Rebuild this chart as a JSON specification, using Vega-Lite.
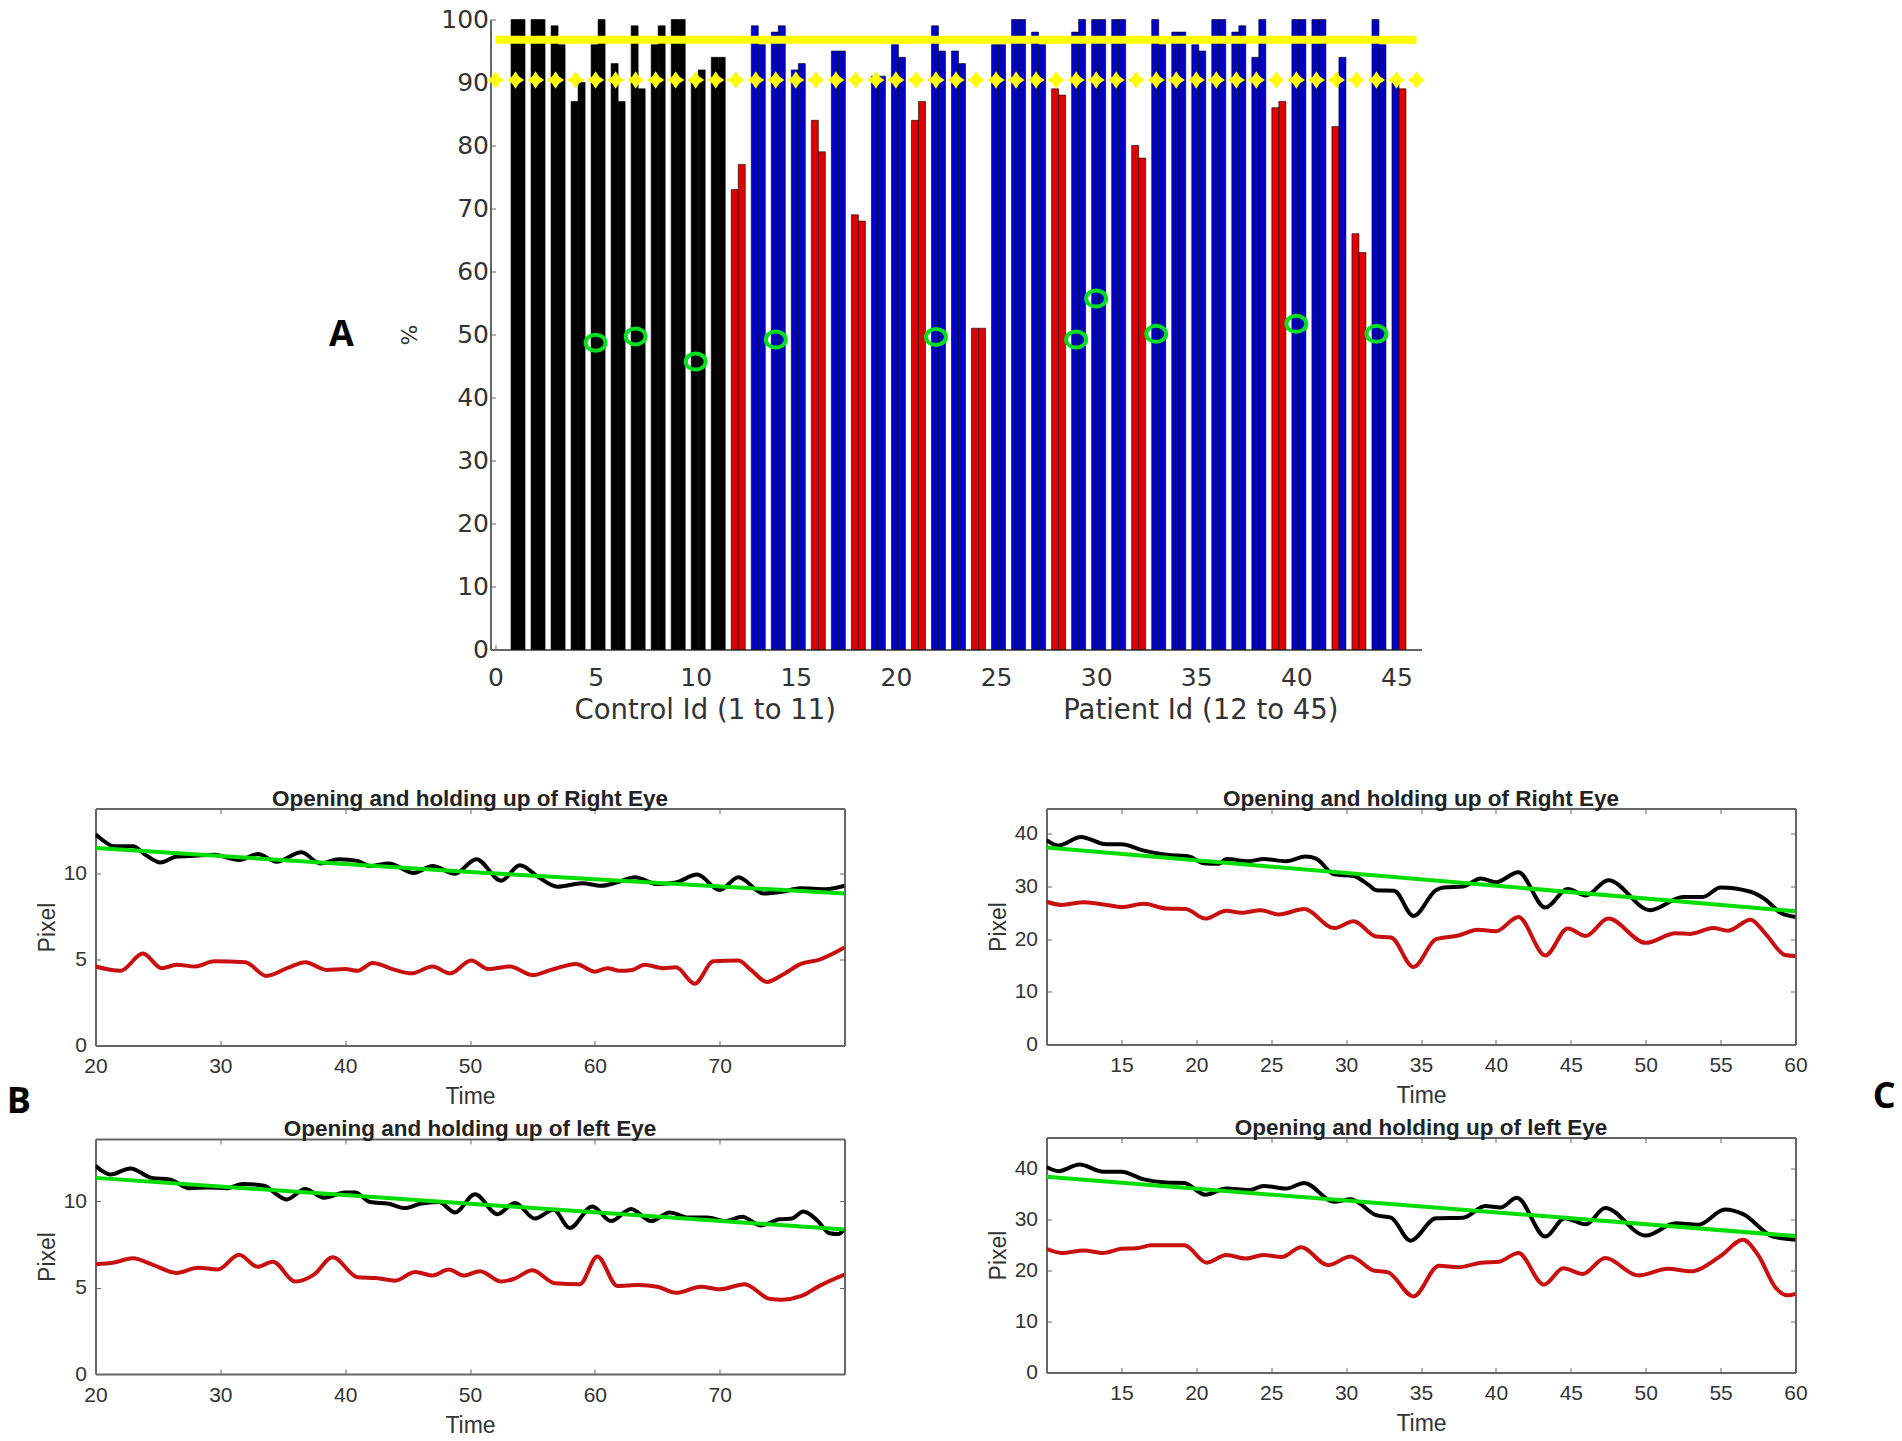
{
  "$schema": "https://vega.github.io/schema/vega-lite/v6.json",
  "description": "A: per-subject percentage bars for controls and patients. B and C: eye opening traces over time.",
  "background": "white",
  "padding": {"left": 6.5, "top": 7.5, "right": 0, "bottom": 8},
  "config": {
    "view": {"stroke": null},
    "axis": {
      "grid": false,
      "labelFont": "Liberation Sans",
      "titleFont": "Liberation Sans",
      "labelFontSize": 21,
      "titleFontSize": 23,
      "titleFontWeight": "normal",
      "labelColor": "#333333",
      "titleColor": "#333333",
      "domainColor": "#666666",
      "domainWidth": 2,
      "tickColor": "#666666",
      "tickSize": -5,
      "labelPadding": 15,
      "labelFlush": false,
      "labelOverlap": false
    },
    "title": {"font": "Liberation Sans", "fontSize": 22.5, "fontWeight": "bold", "color": "#222222", "offset": -2}
  },
  "datasets": {
    "subjects": [
      {"id": 1, "first": 100, "second": 100, "firstGroup": "control", "secondGroup": "control"},
      {"id": 2, "first": 100, "second": 100, "firstGroup": "control", "secondGroup": "control"},
      {"id": 3, "first": 99, "second": 96, "firstGroup": "control", "secondGroup": "control"},
      {"id": 4, "first": 87, "second": 90, "firstGroup": "control", "secondGroup": "control"},
      {"id": 5, "first": 96, "second": 100, "firstGroup": "control", "secondGroup": "control"},
      {"id": 6, "first": 93, "second": 87, "firstGroup": "control", "secondGroup": "control"},
      {"id": 7, "first": 99, "second": 89, "firstGroup": "control", "secondGroup": "control"},
      {"id": 8, "first": 96, "second": 99, "firstGroup": "control", "secondGroup": "control"},
      {"id": 9, "first": 100, "second": 100, "firstGroup": "control", "secondGroup": "control"},
      {"id": 10, "first": 90, "second": 92, "firstGroup": "control", "secondGroup": "control"},
      {"id": 11, "first": 94, "second": 94, "firstGroup": "control", "secondGroup": "control"},
      {"id": 12, "first": 73, "second": 77, "firstGroup": "low", "secondGroup": "low"},
      {"id": 13, "first": 99, "second": 96, "firstGroup": "patient", "secondGroup": "patient"},
      {"id": 14, "first": 98, "second": 99, "firstGroup": "patient", "secondGroup": "patient"},
      {"id": 15, "first": 92, "second": 93, "firstGroup": "patient", "secondGroup": "patient"},
      {"id": 16, "first": 84, "second": 79, "firstGroup": "low", "secondGroup": "low"},
      {"id": 17, "first": 95, "second": 95, "firstGroup": "patient", "secondGroup": "patient"},
      {"id": 18, "first": 69, "second": 68, "firstGroup": "low", "secondGroup": "low"},
      {"id": 19, "first": 91, "second": 91, "firstGroup": "patient", "secondGroup": "patient"},
      {"id": 20, "first": 96, "second": 94, "firstGroup": "patient", "secondGroup": "patient"},
      {"id": 21, "first": 84, "second": 87, "firstGroup": "low", "secondGroup": "low"},
      {"id": 22, "first": 99, "second": 95, "firstGroup": "patient", "secondGroup": "patient"},
      {"id": 23, "first": 95, "second": 93, "firstGroup": "patient", "secondGroup": "patient"},
      {"id": 24, "first": 51, "second": 51, "firstGroup": "low", "secondGroup": "low"},
      {"id": 25, "first": 96, "second": 96, "firstGroup": "patient", "secondGroup": "patient"},
      {"id": 26, "first": 100, "second": 100, "firstGroup": "patient", "secondGroup": "patient"},
      {"id": 27, "first": 98, "second": 96, "firstGroup": "patient", "secondGroup": "patient"},
      {"id": 28, "first": 89, "second": 88, "firstGroup": "low", "secondGroup": "low"},
      {"id": 29, "first": 98, "second": 100, "firstGroup": "patient", "secondGroup": "patient"},
      {"id": 30, "first": 100, "second": 100, "firstGroup": "patient", "secondGroup": "patient"},
      {"id": 31, "first": 100, "second": 100, "firstGroup": "patient", "secondGroup": "patient"},
      {"id": 32, "first": 80, "second": 78, "firstGroup": "low", "secondGroup": "low"},
      {"id": 33, "first": 100, "second": 96, "firstGroup": "patient", "secondGroup": "patient"},
      {"id": 34, "first": 98, "second": 98, "firstGroup": "patient", "secondGroup": "patient"},
      {"id": 35, "first": 96, "second": 95, "firstGroup": "patient", "secondGroup": "patient"},
      {"id": 36, "first": 100, "second": 100, "firstGroup": "patient", "secondGroup": "patient"},
      {"id": 37, "first": 98, "second": 99, "firstGroup": "patient", "secondGroup": "patient"},
      {"id": 38, "first": 94, "second": 100, "firstGroup": "patient", "secondGroup": "patient"},
      {"id": 39, "first": 86, "second": 87, "firstGroup": "low", "secondGroup": "low"},
      {"id": 40, "first": 100, "second": 100, "firstGroup": "patient", "secondGroup": "patient"},
      {"id": 41, "first": 100, "second": 100, "firstGroup": "patient", "secondGroup": "patient"},
      {"id": 42, "first": 83, "second": 94, "firstGroup": "low", "secondGroup": "patient"},
      {"id": 43, "first": 66, "second": 63, "firstGroup": "low", "secondGroup": "low"},
      {"id": 44, "first": 100, "second": 96, "firstGroup": "patient", "secondGroup": "patient"},
      {"id": 45, "first": 90, "second": 89, "firstGroup": "patient", "secondGroup": "low"}
    ],
    "rings": [
      {"id": 5, "value": 48.7}, {"id": 7, "value": 49.7}, {"id": 10, "value": 45.7},
      {"id": 14, "value": 49.2}, {"id": 22, "value": 49.6}, {"id": 29, "value": 49.2},
      {"id": 30, "value": 55.7}, {"id": 33, "value": 50.1}, {"id": 40, "value": 51.7},
      {"id": 44, "value": 50.1}
    ],
    "markers": [
      {"id": 0, "value": 90.4}, {"id": 1, "value": 90.4}, {"id": 2, "value": 90.4}, {"id": 3, "value": 90.4},
      {"id": 4, "value": 90.4}, {"id": 5, "value": 90.4}, {"id": 6, "value": 90.4}, {"id": 7, "value": 90.4},
      {"id": 8, "value": 90.4}, {"id": 9, "value": 90.4}, {"id": 10, "value": 90.4}, {"id": 11, "value": 90.4},
      {"id": 12, "value": 90.4}, {"id": 13, "value": 90.4}, {"id": 14, "value": 90.4}, {"id": 15, "value": 90.4},
      {"id": 16, "value": 90.4}, {"id": 17, "value": 90.4}, {"id": 18, "value": 90.4}, {"id": 19, "value": 90.4},
      {"id": 20, "value": 90.4}, {"id": 21, "value": 90.4}, {"id": 22, "value": 90.4}, {"id": 23, "value": 90.4},
      {"id": 24, "value": 90.4}, {"id": 25, "value": 90.4}, {"id": 26, "value": 90.4}, {"id": 27, "value": 90.4},
      {"id": 28, "value": 90.4}, {"id": 29, "value": 90.4}, {"id": 30, "value": 90.4}, {"id": 31, "value": 90.4},
      {"id": 32, "value": 90.4}, {"id": 33, "value": 90.4}, {"id": 34, "value": 90.4}, {"id": 35, "value": 90.4},
      {"id": 36, "value": 90.4}, {"id": 37, "value": 90.4}, {"id": 38, "value": 90.4}, {"id": 39, "value": 90.4},
      {"id": 40, "value": 90.4}, {"id": 41, "value": 90.4}, {"id": 42, "value": 90.4}, {"id": 43, "value": 90.4},
      {"id": 44, "value": 90.4}, {"id": 45, "value": 90.4}, {"id": 46, "value": 90.4}
    ],
    "threshold": [{"id": 0, "value": 96.8}, {"id": 46, "value": 96.8}],
    "rightEyeB": [
      {"s":"upper","t":20,"p":12.3},{"s":"upper","t":20.5,"p":12},{"s":"upper","t":21.5,"p":11.6},{"s":"upper","t":23,"p":11.6},{"s":"upper","t":24,"p":11.1},{"s":"upper","t":25.2,"p":10.65},{"s":"upper","t":26.5,"p":11},{"s":"upper","t":28,"p":11.05},{"s":"upper","t":29.5,"p":11.1},{"s":"upper","t":31.5,"p":10.8},{"s":"upper","t":33,"p":11.15},{"s":"upper","t":34.5,"p":10.7},{"s":"upper","t":36.5,"p":11.25},{"s":"upper","t":38,"p":10.6},{"s":"upper","t":39.5,"p":10.85},{"s":"upper","t":41,"p":10.75},{"s":"upper","t":42,"p":10.45},{"s":"upper","t":43.5,"p":10.6},{"s":"upper","t":45.5,"p":10.05},{"s":"upper","t":47,"p":10.45},{"s":"upper","t":48.8,"p":10},{"s":"upper","t":50.5,"p":10.85},{"s":"upper","t":52.5,"p":9.6},{"s":"upper","t":54,"p":10.5},{"s":"upper","t":55.5,"p":9.8},{"s":"upper","t":57,"p":9.25},{"s":"upper","t":59,"p":9.45},{"s":"upper","t":60.5,"p":9.3},{"s":"upper","t":62,"p":9.55},{"s":"upper","t":63.2,"p":9.8},{"s":"upper","t":65,"p":9.4},{"s":"upper","t":66.5,"p":9.5},{"s":"upper","t":68.2,"p":9.95},{"s":"upper","t":70,"p":9.05},{"s":"upper","t":71.5,"p":9.8},{"s":"upper","t":73.5,"p":8.85},{"s":"upper","t":75,"p":8.95},{"s":"upper","t":76.5,"p":9.15},{"s":"upper","t":78.5,"p":9.1},{"s":"upper","t":80,"p":9.3},
      {"s":"lower","t":20,"p":4.6},{"s":"lower","t":22,"p":4.35},{"s":"lower","t":23.8,"p":5.35},{"s":"lower","t":25.3,"p":4.5},{"s":"lower","t":26.5,"p":4.7},{"s":"lower","t":28,"p":4.6},{"s":"lower","t":29.5,"p":4.9},{"s":"lower","t":32,"p":4.85},{"s":"lower","t":33.7,"p":4.05},{"s":"lower","t":35.5,"p":4.55},{"s":"lower","t":36.8,"p":4.85},{"s":"lower","t":38.5,"p":4.4},{"s":"lower","t":40,"p":4.45},{"s":"lower","t":41,"p":4.35},{"s":"lower","t":42.2,"p":4.8},{"s":"lower","t":44,"p":4.4},{"s":"lower","t":45.3,"p":4.2},{"s":"lower","t":47,"p":4.6},{"s":"lower","t":48.4,"p":4.2},{"s":"lower","t":50.1,"p":4.95},{"s":"lower","t":51.5,"p":4.45},{"s":"lower","t":53.2,"p":4.6},{"s":"lower","t":55,"p":4.1},{"s":"lower","t":56.5,"p":4.4},{"s":"lower","t":58.5,"p":4.75},{"s":"lower","t":60,"p":4.3},{"s":"lower","t":61,"p":4.5},{"s":"lower","t":62,"p":4.35},{"s":"lower","t":63,"p":4.4},{"s":"lower","t":64,"p":4.7},{"s":"lower","t":65.5,"p":4.5},{"s":"lower","t":66.5,"p":4.55},{"s":"lower","t":68,"p":3.6},{"s":"lower","t":69.5,"p":4.9},{"s":"lower","t":71.5,"p":4.95},{"s":"lower","t":72.5,"p":4.4},{"s":"lower","t":73.8,"p":3.7},{"s":"lower","t":75,"p":4.1},{"s":"lower","t":76.5,"p":4.75},{"s":"lower","t":78,"p":5},{"s":"lower","t":80,"p":5.7},
      {"s":"fit","t":20,"p":11.5},{"s":"fit","t":50,"p":10.1},{"s":"fit","t":80,"p":8.85}
    ],
    "leftEyeB": [
      {"s":"upper","t":20,"p":12.05},{"s":"upper","t":21.2,"p":11.55},{"s":"upper","t":22.8,"p":11.9},{"s":"upper","t":24.5,"p":11.35},{"s":"upper","t":26,"p":11.25},{"s":"upper","t":27.5,"p":10.75},{"s":"upper","t":29,"p":10.8},{"s":"upper","t":30.5,"p":10.75},{"s":"upper","t":31.8,"p":11},{"s":"upper","t":33.5,"p":10.9},{"s":"upper","t":34.5,"p":10.4},{"s":"upper","t":35.3,"p":10.1},{"s":"upper","t":36.8,"p":10.7},{"s":"upper","t":38.3,"p":10.2},{"s":"upper","t":40,"p":10.5},{"s":"upper","t":40.8,"p":10.5},{"s":"upper","t":42,"p":9.95},{"s":"upper","t":43.5,"p":9.85},{"s":"upper","t":44.8,"p":9.6},{"s":"upper","t":46,"p":9.85},{"s":"upper","t":47.5,"p":9.95},{"s":"upper","t":48.8,"p":9.35},{"s":"upper","t":50.4,"p":10.4},{"s":"upper","t":52.2,"p":9.25},{"s":"upper","t":53.6,"p":9.9},{"s":"upper","t":55.2,"p":9},{"s":"upper","t":56.7,"p":9.5},{"s":"upper","t":58,"p":8.45},{"s":"upper","t":59.8,"p":9.7},{"s":"upper","t":61.3,"p":8.85},{"s":"upper","t":62.9,"p":9.55},{"s":"upper","t":64.5,"p":8.85},{"s":"upper","t":66,"p":9.35},{"s":"upper","t":67.5,"p":9.05},{"s":"upper","t":69,"p":9.05},{"s":"upper","t":70.5,"p":8.85},{"s":"upper","t":71.8,"p":9.1},{"s":"upper","t":73.3,"p":8.6},{"s":"upper","t":74.8,"p":8.95},{"s":"upper","t":75.8,"p":9},{"s":"upper","t":76.7,"p":9.4},{"s":"upper","t":77.8,"p":8.9},{"s":"upper","t":78.8,"p":8.15},{"s":"upper","t":79.5,"p":8.1},{"s":"upper","t":80,"p":8.4},
      {"s":"lower","t":20,"p":6.35},{"s":"lower","t":21.5,"p":6.45},{"s":"lower","t":23,"p":6.7},{"s":"lower","t":24.5,"p":6.35},{"s":"lower","t":26.5,"p":5.85},{"s":"lower","t":28.2,"p":6.15},{"s":"lower","t":29.8,"p":6.05},{"s":"lower","t":31.5,"p":6.9},{"s":"lower","t":33,"p":6.2},{"s":"lower","t":34.2,"p":6.5},{"s":"lower","t":36,"p":5.35},{"s":"lower","t":37.5,"p":5.75},{"s":"lower","t":39,"p":6.75},{"s":"lower","t":41,"p":5.6},{"s":"lower","t":42.5,"p":5.55},{"s":"lower","t":44,"p":5.4},{"s":"lower","t":45.6,"p":5.9},{"s":"lower","t":47,"p":5.7},{"s":"lower","t":48.3,"p":6.05},{"s":"lower","t":49.5,"p":5.7},{"s":"lower","t":50.8,"p":5.95},{"s":"lower","t":52.5,"p":5.35},{"s":"lower","t":53.5,"p":5.5},{"s":"lower","t":55,"p":6},{"s":"lower","t":56.8,"p":5.25},{"s":"lower","t":58.8,"p":5.2},{"s":"lower","t":60.2,"p":6.8},{"s":"lower","t":61.8,"p":5.1},{"s":"lower","t":63.5,"p":5.15},{"s":"lower","t":65,"p":5.05},{"s":"lower","t":66.5,"p":4.7},{"s":"lower","t":68.5,"p":5.05},{"s":"lower","t":70,"p":4.9},{"s":"lower","t":72,"p":5.2},{"s":"lower","t":74,"p":4.35},{"s":"lower","t":75,"p":4.3},{"s":"lower","t":76.5,"p":4.5},{"s":"lower","t":78,"p":5.1},{"s":"lower","t":80,"p":5.75},
      {"s":"fit","t":20,"p":11.35},{"s":"fit","t":80,"p":8.36}
    ],
    "rightEyeC": [
      {"s":"upper","t":10,"p":38.8},{"s":"upper","t":10.8,"p":37.8},{"s":"upper","t":12.3,"p":39.4},{"s":"upper","t":14,"p":38},{"s":"upper","t":15,"p":38},{"s":"upper","t":16.5,"p":36.8},{"s":"upper","t":18,"p":36},{"s":"upper","t":19.5,"p":35.7},{"s":"upper","t":20.5,"p":34.4},{"s":"upper","t":21.5,"p":34.3},{"s":"upper","t":22,"p":35.2},{"s":"upper","t":23.5,"p":34.8},{"s":"upper","t":24.5,"p":35.2},{"s":"upper","t":26,"p":34.8},{"s":"upper","t":27.3,"p":35.7},{"s":"upper","t":28,"p":35.3},{"s":"upper","t":29.2,"p":32.3},{"s":"upper","t":30.5,"p":32},{"s":"upper","t":31.5,"p":30.3},{"s":"upper","t":32,"p":29.3},{"s":"upper","t":33.2,"p":29.2},{"s":"upper","t":34.5,"p":24.4},{"s":"upper","t":36,"p":29.3},{"s":"upper","t":36.5,"p":29.8},{"s":"upper","t":37.8,"p":30},{"s":"upper","t":39,"p":31.5},{"s":"upper","t":40,"p":30.8},{"s":"upper","t":41.5,"p":32.7},{"s":"upper","t":43.3,"p":26},{"s":"upper","t":44.8,"p":29.5},{"s":"upper","t":46,"p":28.3},{"s":"upper","t":47.5,"p":31.2},{"s":"upper","t":50.3,"p":25.5},{"s":"upper","t":52.5,"p":28},{"s":"upper","t":53.8,"p":28},{"s":"upper","t":55,"p":29.8},{"s":"upper","t":57,"p":29},{"s":"upper","t":58,"p":27.5},{"s":"upper","t":59,"p":25},{"s":"upper","t":60,"p":24.2},
      {"s":"lower","t":10,"p":27.1},{"s":"lower","t":11,"p":26.5},{"s":"lower","t":12.5,"p":27},{"s":"lower","t":14,"p":26.5},{"s":"lower","t":15,"p":26.1},{"s":"lower","t":16.5,"p":26.7},{"s":"lower","t":18,"p":25.8},{"s":"lower","t":19.3,"p":25.7},{"s":"lower","t":20.6,"p":23.9},{"s":"lower","t":22,"p":25.4},{"s":"lower","t":23,"p":25},{"s":"lower","t":24.3,"p":25.5},{"s":"lower","t":25.5,"p":24.7},{"s":"lower","t":27.2,"p":25.7},{"s":"lower","t":29.2,"p":22.1},{"s":"lower","t":30.5,"p":23.4},{"s":"lower","t":32,"p":20.5},{"s":"lower","t":33,"p":20.3},{"s":"lower","t":34.5,"p":14.7},{"s":"lower","t":36,"p":20},{"s":"lower","t":37.5,"p":20.7},{"s":"lower","t":38.8,"p":21.8},{"s":"lower","t":40,"p":21.5},{"s":"lower","t":41.5,"p":24.2},{"s":"lower","t":43.3,"p":16.9},{"s":"lower","t":44.8,"p":22},{"s":"lower","t":46,"p":20.6},{"s":"lower","t":47.5,"p":23.9},{"s":"lower","t":50,"p":19.3},{"s":"lower","t":52,"p":21.1},{"s":"lower","t":53,"p":21},{"s":"lower","t":54.5,"p":22.1},{"s":"lower","t":55.5,"p":21.6},{"s":"lower","t":57,"p":23.7},{"s":"lower","t":58,"p":21},{"s":"lower","t":59.3,"p":17},{"s":"lower","t":60,"p":16.8},
      {"s":"fit","t":10,"p":37.4},{"s":"fit","t":60,"p":25.3}
    ],
    "leftEyeC": [
      {"s":"upper","t":10,"p":40.2},{"s":"upper","t":10.8,"p":39.4},{"s":"upper","t":12.2,"p":40.7},{"s":"upper","t":13.8,"p":39.3},{"s":"upper","t":15,"p":39.3},{"s":"upper","t":16.5,"p":37.8},{"s":"upper","t":18,"p":37.2},{"s":"upper","t":19.2,"p":37.1},{"s":"upper","t":20.6,"p":34.8},{"s":"upper","t":22,"p":36},{"s":"upper","t":23.5,"p":35.7},{"s":"upper","t":24.5,"p":36.5},{"s":"upper","t":26,"p":36},{"s":"upper","t":27.2,"p":37.1},{"s":"upper","t":29.2,"p":33.4},{"s":"upper","t":30.3,"p":33.9},{"s":"upper","t":32,"p":30.8},{"s":"upper","t":33,"p":30.3},{"s":"upper","t":34.3,"p":25.8},{"s":"upper","t":36,"p":30.2},{"s":"upper","t":37.8,"p":30.3},{"s":"upper","t":39.3,"p":32.6},{"s":"upper","t":40.3,"p":32.3},{"s":"upper","t":41.4,"p":34.2},{"s":"upper","t":43.3,"p":26.6},{"s":"upper","t":44.6,"p":30.2},{"s":"upper","t":46,"p":29},{"s":"upper","t":47.3,"p":32.2},{"s":"upper","t":50,"p":26.8},{"s":"upper","t":52,"p":29.2},{"s":"upper","t":53.5,"p":28.9},{"s":"upper","t":55.3,"p":31.9},{"s":"upper","t":56.5,"p":31},{"s":"upper","t":58.5,"p":26.6},{"s":"upper","t":60,"p":26},
      {"s":"lower","t":10,"p":24.2},{"s":"lower","t":11,"p":23.4},{"s":"lower","t":12.5,"p":23.9},{"s":"lower","t":13.8,"p":23.4},{"s":"lower","t":15,"p":24.2},{"s":"lower","t":16,"p":24.3},{"s":"lower","t":17,"p":24.9},{"s":"lower","t":19.2,"p":24.9},{"s":"lower","t":20.7,"p":21.5},{"s":"lower","t":22,"p":23},{"s":"lower","t":23.3,"p":22.3},{"s":"lower","t":24.5,"p":23},{"s":"lower","t":25.7,"p":22.6},{"s":"lower","t":27,"p":24.5},{"s":"lower","t":28.8,"p":21},{"s":"lower","t":30.3,"p":22.7},{"s":"lower","t":31.8,"p":20},{"s":"lower","t":32.8,"p":19.6},{"s":"lower","t":34.5,"p":14.9},{"s":"lower","t":36.2,"p":20.9},{"s":"lower","t":37.5,"p":20.6},{"s":"lower","t":39,"p":21.5},{"s":"lower","t":40.2,"p":21.7},{"s":"lower","t":41.5,"p":23.4},{"s":"lower","t":43.2,"p":17.2},{"s":"lower","t":44.5,"p":20.4},{"s":"lower","t":45.8,"p":19.3},{"s":"lower","t":47.3,"p":22.4},{"s":"lower","t":49.5,"p":19},{"s":"lower","t":51.5,"p":20.3},{"s":"lower","t":53,"p":19.8},{"s":"lower","t":55,"p":22.8},{"s":"lower","t":56.5,"p":26},{"s":"lower","t":57.5,"p":23},{"s":"lower","t":58.7,"p":16.5},{"s":"lower","t":59.5,"p":15.1},{"s":"lower","t":60,"p":15.4},
      {"s":"fit","t":10,"p":38.3},{"s":"fit","t":60,"p":26.7}
    ]
  },
  "vconcat": [
    {
      "hconcat": [
        {
          "width": 233,
          "height": 630,
          "data": {"values": [{}]},
          "mark": {"type": "point", "opacity": 0},
          "encoding": {}
        },
        {
          "width": 931,
          "height": 630,
          "resolve": {"axis": {"x": "independent", "y": "independent"}},
          "layer": [
            {
              "data": {"name": "subjects"},
              "mark": {"type": "bar", "width": 7, "xOffset": -1, "stroke": "#000000", "strokeWidth": 0.6},
              "encoding": {
                "x": {
                  "field": "id",
                  "type": "quantitative",
                  "scale": {"domain": [0, 46], "nice": false},
                  "axis": {
                    "values": [0, 5, 10, 15, 20, 25, 30, 35, 40, 45],
                    "title": "Control Id (1 to 11)\u00a0\u00a0\u00a0\u00a0\u00a0\u00a0\u00a0\u00a0\u00a0\u00a0\u00a0\u00a0\u00a0\u00a0\u00a0\u00a0\u00a0\u00a0\u00a0\u00a0\u00a0\u00a0\u00a0\u00a0\u00a0\u00a0Patient Id (12 to 45)",
                    "labelFont": "DejaVu Sans",
                    "titleFont": "DejaVu Sans",
                    "labelFontSize": 25,
                    "titleFontSize": 27.5,
                    "labelPadding": 21,
                    "titlePadding": 6
                  }
                },
                "y": {
                  "field": "first",
                  "type": "quantitative",
                  "stack": null,
                  "scale": {"domain": [0, 100], "nice": false},
                  "axis": {
                    "values": [0, 10, 20, 30, 40, 50, 60, 70, 80, 90, 100],
                    "title": "%",
                    "labelFont": "DejaVu Sans",
                    "titleFont": "DejaVu Sans",
                    "labelFontSize": 25,
                    "titleFontSize": 22,
                    "labelPadding": 7,
                    "titlePadding": 19
                  }
                },
                "color": {
                  "field": "firstGroup",
                  "type": "nominal",
                  "scale": {"domain": ["control", "patient", "low"], "range": ["#000000", "#0000c8", "#e00000"]},
                  "legend": null
                }
              }
            },
            {
              "data": {"name": "subjects"},
              "mark": {"type": "bar", "width": 7, "xOffset": 6, "stroke": "#000000", "strokeWidth": 0.6},
              "encoding": {
                "x": {"field": "id", "type": "quantitative", "axis": null},
                "y": {"field": "second", "type": "quantitative", "stack": null, "axis": null},
                "color": {"field": "secondGroup", "type": "nominal", "legend": null}
              }
            },
            {
              "data": {"name": "threshold"},
              "mark": {"type": "line", "color": "#ffff00", "strokeWidth": 8},
              "encoding": {
                "x": {"field": "id", "type": "quantitative", "axis": null},
                "y": {"field": "value", "type": "quantitative", "axis": null}
              }
            },
            {
              "data": {"name": "markers"},
              "mark": {
                "type": "point",
                "shape": "M0,-1 L0.4,-0.4 L1,0 L0.4,0.4 L0,1 L-0.4,0.4 L-1,0 L-0.4,-0.4 Z",
                "size": 300,
                "filled": true,
                "opacity": 1,
                "color": "#ffff00"
              },
              "encoding": {
                "x": {"field": "id", "type": "quantitative", "axis": null},
                "y": {"field": "value", "type": "quantitative", "axis": null}
              }
            },
            {
              "data": {"name": "rings"},
              "mark": {
                "type": "point",
                "shape": "M-1,0 A1,0.8 0 1 1 1,0 A1,0.8 0 1 1 -1,0 Z",
                "size": 400,
                "filled": false,
                "opacity": 1,
                "color": "#00e020",
                "strokeWidth": 4
              },
              "encoding": {
                "x": {"field": "id", "type": "quantitative", "axis": null},
                "y": {"field": "value", "type": "quantitative", "axis": null}
              }
            },
            {
              "data": {"values": [{"id": -7.7, "value": 50, "letter": "A"}]},
              "mark": {"type": "text", "font": "Open Sans", "fontWeight": "bold", "fontSize": 36, "color": "#000000"},
              "encoding": {
                "x": {"field": "id", "type": "quantitative", "axis": null},
                "y": {"field": "value", "type": "quantitative", "axis": null},
                "text": {"field": "letter"}
              }
            }
          ]
        }
      ],
      "spacing": 0,
      "resolve": {"scale": {"color": "independent"}}
    },
    {
      "hconcat": [
        {
          "vconcat": [
            {
              "width": 749,
              "height": 237,
              "title": "Opening and holding up of Right Eye",
              "resolve": {"axis": {"x": "independent", "y": "independent"}},
              "layer": [
                {
                  "data": {"name": "rightEyeB"},
                  "mark": {"type": "line", "interpolate": "monotone", "strokeWidth": 4, "clip": true},
                  "encoding": {
                    "x": {"field": "t", "type": "quantitative", "scale": {"domain": [20, 80], "nice": false}, "axis": {"values": [20, 30, 40, 50, 60, 70], "title": "Time", "titlePadding": 9}},
                    "y": {"field": "p", "type": "quantitative", "scale": {"domain": [0, 13.8], "nice": false}, "axis": {"values": [0, 5, 10], "title": "Pixel", "labelPadding": 14, "titlePadding": 4}},
                    "color": {"field": "s", "type": "nominal", "scale": {"domain": ["upper", "lower", "fit"], "range": ["#000000", "#c81010", "#00dd00"]}, "legend": null}
                  }
                },
                {
                  "data": {"name": "rightEyeB"},
                  "mark": {"type": "line", "opacity": 0},
                  "encoding": {
                    "x": {"field": "t", "type": "quantitative", "axis": {"orient": "top", "values": [20, 30, 40, 50, 60, 70], "labels": false, "title": null}},
                    "y": {"field": "p", "type": "quantitative", "axis": {"orient": "right", "values": [0, 5, 10], "labels": false, "title": null}}
                  }
                },
                {
                  "data": {"values": [{"t": 13.85, "p": -3.3, "letter": "B"}]},
                  "mark": {"type": "text", "font": "Open Sans", "fontWeight": "bold", "fontSize": 36, "color": "#000000"},
                  "encoding": {
                    "x": {"field": "t", "type": "quantitative", "axis": null},
                    "y": {"field": "p", "type": "quantitative", "axis": null},
                    "text": {"field": "letter"}
                  }
                }
              ]
            },
            {
              "width": 749,
              "height": 235,
              "title": "Opening and holding up of left Eye",
              "resolve": {"axis": {"x": "independent", "y": "independent"}},
              "layer": [
                {
                  "data": {"name": "leftEyeB"},
                  "mark": {"type": "line", "interpolate": "monotone", "strokeWidth": 4, "clip": true},
                  "encoding": {
                    "x": {"field": "t", "type": "quantitative", "scale": {"domain": [20, 80], "nice": false}, "axis": {"values": [20, 30, 40, 50, 60, 70], "title": "Time", "titlePadding": 9}},
                    "y": {"field": "p", "type": "quantitative", "scale": {"domain": [0, 13.6], "nice": false}, "axis": {"values": [0, 5, 10], "title": "Pixel", "labelPadding": 14, "titlePadding": 4}},
                    "color": {"field": "s", "type": "nominal", "scale": {"domain": ["upper", "lower", "fit"], "range": ["#000000", "#c81010", "#00dd00"]}, "legend": null}
                  }
                },
                {
                  "data": {"name": "leftEyeB"},
                  "mark": {"type": "line", "opacity": 0},
                  "encoding": {
                    "x": {"field": "t", "type": "quantitative", "axis": {"orient": "top", "values": [20, 30, 40, 50, 60, 70], "labels": false, "title": null}},
                    "y": {"field": "p", "type": "quantitative", "axis": {"orient": "right", "values": [0, 5, 10], "labels": false, "title": null}}
                  }
                }
              ]
            }
          ],
          "spacing": -2.5,
          "resolve": {"scale": {"color": "independent"}}
        },
        {
          "vconcat": [
            {
              "width": 749,
              "height": 236,
              "title": "Opening and holding up of Right Eye",
              "resolve": {"axis": {"x": "independent", "y": "independent"}},
              "layer": [
                {
                  "data": {"name": "rightEyeC"},
                  "mark": {"type": "line", "interpolate": "monotone", "strokeWidth": 4, "clip": true},
                  "encoding": {
                    "x": {"field": "t", "type": "quantitative", "scale": {"domain": [10, 60], "nice": false}, "axis": {"values": [15, 20, 25, 30, 35, 40, 45, 50, 55, 60], "title": "Time", "titlePadding": 9}},
                    "y": {"field": "p", "type": "quantitative", "scale": {"domain": [0, 44.8], "nice": false}, "axis": {"values": [0, 10, 20, 30, 40], "title": "Pixel", "labelPadding": 14, "titlePadding": 4}},
                    "color": {"field": "s", "type": "nominal", "scale": {"domain": ["upper", "lower", "fit"], "range": ["#000000", "#c81010", "#00dd00"]}, "legend": null}
                  }
                },
                {
                  "data": {"name": "rightEyeC"},
                  "mark": {"type": "line", "opacity": 0},
                  "encoding": {
                    "x": {"field": "t", "type": "quantitative", "axis": {"orient": "top", "values": [15, 20, 25, 30, 35, 40, 45, 50, 55, 60], "labels": false, "title": null}},
                    "y": {"field": "p", "type": "quantitative", "axis": {"orient": "right", "values": [0, 10, 20, 30, 40], "labels": false, "title": null}}
                  }
                },
                {
                  "data": {"values": [{"t": 65.93, "p": -9.9, "letter": "C"}]},
                  "mark": {"type": "text", "font": "Open Sans", "fontWeight": "bold", "fontSize": 36, "color": "#000000"},
                  "encoding": {
                    "x": {"field": "t", "type": "quantitative", "axis": null},
                    "y": {"field": "p", "type": "quantitative", "axis": null},
                    "text": {"field": "letter"}
                  }
                }
              ]
            },
            {
              "width": 749,
              "height": 235,
              "title": "Opening and holding up of left Eye",
              "resolve": {"axis": {"x": "independent", "y": "independent"}},
              "layer": [
                {
                  "data": {"name": "leftEyeC"},
                  "mark": {"type": "line", "interpolate": "monotone", "strokeWidth": 4, "clip": true},
                  "encoding": {
                    "x": {"field": "t", "type": "quantitative", "scale": {"domain": [10, 60], "nice": false}, "axis": {"values": [15, 20, 25, 30, 35, 40, 45, 50, 55, 60], "title": "Time", "titlePadding": 9}},
                    "y": {"field": "p", "type": "quantitative", "scale": {"domain": [0, 46], "nice": false}, "axis": {"values": [0, 10, 20, 30, 40], "title": "Pixel", "labelPadding": 14, "titlePadding": 4}},
                    "color": {"field": "s", "type": "nominal", "scale": {"domain": ["upper", "lower", "fit"], "range": ["#000000", "#c81010", "#00dd00"]}, "legend": null}
                  }
                },
                {
                  "data": {"name": "leftEyeC"},
                  "mark": {"type": "line", "opacity": 0},
                  "encoding": {
                    "x": {"field": "t", "type": "quantitative", "axis": {"orient": "top", "values": [15, 20, 25, 30, 35, 40, 45, 50, 55, 60], "labels": false, "title": null}},
                    "y": {"field": "p", "type": "quantitative", "axis": {"orient": "right", "values": [0, 10, 20, 30, 40], "labels": false, "title": null}}
                  }
                }
              ]
            }
          ],
          "spacing": 1,
          "resolve": {"scale": {"color": "independent"}}
        }
      ],
      "spacing": 141,
      "resolve": {"scale": {"color": "independent"}}
    }
  ],
  "spacing": 63,
  "resolve": {"scale": {"color": "independent"}}
}
